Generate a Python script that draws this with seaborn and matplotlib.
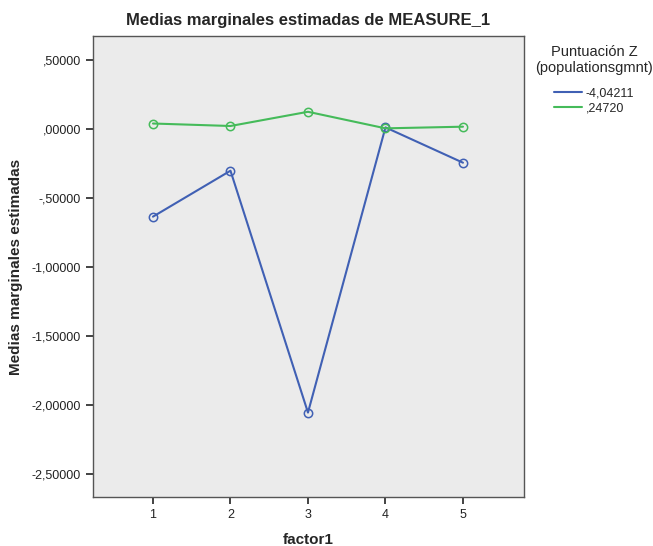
import pandas as pd
import seaborn as sns
import matplotlib.pyplot as plt
from matplotlib.lines import Line2D
from matplotlib.ticker import FuncFormatter

factor1 = [1, 2, 3, 4, 5]
groups = ['-4,04211', ',24720']
means_low = [-0.635, -0.302, -2.055, 0.012, -0.244]
means_high = [0.040, 0.022, 0.125, 0.005, 0.017]
colors = ['#4060b4', '#45bb5a']

df = pd.DataFrame({
    'factor1': factor1 * 2,
    'media': means_low + means_high,
    'grupo': [groups[0]] * 5 + [groups[1]] * 5,
})

sns.set_style('white')
plt.rcParams['font.family'] = ['Liberation Sans', 'DejaVu Sans']

fig = plt.figure(figsize=(6.53, 5.46), dpi=100)
ax = fig.add_axes([0.1424, 0.0897, 0.66, 0.8443])
ax.set_facecolor('#ebebeb')

sns.lineplot(data=df, x='factor1', y='media', hue='grupo', palette=colors,
             marker='o', markersize=6, linewidth=1.5, legend=False, ax=ax)
# open circles in the line colour
for line in ax.get_lines():
    line.set_markerfacecolor('none')
    line.set_markeredgecolor(line.get_color())
    line.set_markeredgewidth(1.1)

ax.set_xlim(0.226, 5.787)
ax.set_ylim(-2.667, 0.674)
ax.set_xticks(factor1)
ax.set_yticks([0.5, 0, -0.5, -1, -1.5, -2, -2.5])


def fmt(v, pos):
    s = f'{v:.5f}'.replace('.', ',')
    s = s.replace('0,', ',', 1) if s.startswith(('0,', '-0,')) else s
    return s


ax.yaxis.set_major_formatter(FuncFormatter(fmt))
ax.tick_params(axis='both', direction='out', length=5, width=1.2,
               labelsize=9, colors='#222222', left=True, bottom=True)
for sp in ax.spines.values():
    sp.set_color('#555555')
    sp.set_linewidth(1.0)

ax.set_title('Medias marginales estimadas de MEASURE_1', fontsize=12,
             fontweight='bold', pad=8)
ax.set_xlabel('factor1', fontsize=11, fontweight='bold', labelpad=9)
ax.set_ylabel('Medias marginales estimadas', fontsize=11, fontweight='bold',
              labelpad=6)

handles = [Line2D([0], [0], color=c, lw=1.5) for c in colors]
leg = ax.legend(handles, groups, title='Puntuación Z\n(populationsgmnt)',
                loc='upper left', bbox_to_anchor=(1.0, 1.005), frameon=False,
                fontsize=9, title_fontsize=10.5, handlelength=2.2,
                handletextpad=0.3, labelspacing=0.2)
leg._legend_box.align = 'center'
leg._legend_box.sep = 9
leg.get_title().set_multialignment('center')

fig.savefig('out.png', dpi=100)
